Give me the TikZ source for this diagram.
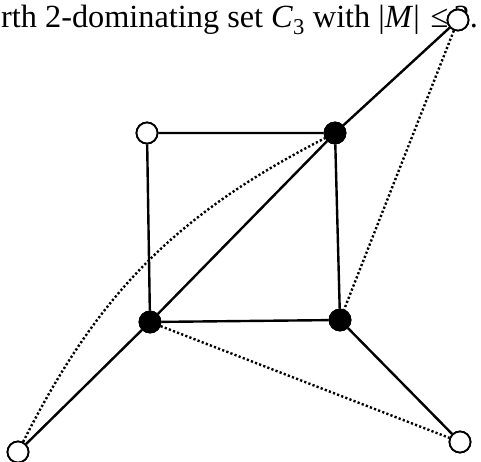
\documentclass[tikz,border=0pt]{standalone}
\usepackage{fontspec}
\setmainfont{Liberation Serif}
\usepackage{tikz}

\begin{document}
\begin{tikzpicture}[x=1pt,y=1pt,
    wnode/.style={circle,draw,fill=white,line width=1.8pt,minimum size=21pt,inner sep=0pt},
    bnode/.style={circle,draw,fill=black,line width=1.8pt,minimum size=21pt,inner sep=0pt},
    edge/.style={line width=2.4pt},
    dotline/.style={line width=2.4pt,dash pattern=on 2.2pt off 2.2pt}]
        \useasboundingbox (0,0) rectangle (481,461);
        % caption fragment
        \node[anchor=base west,inner sep=0pt,font=\fontsize{32.3}{38}\selectfont] (cap) at (1,433)
          {rth 2-dominating set \textit{C}\textsubscript{3} with |\textit{M}|\,\,≤\,3.};
        % vertices
        \node[wnode] (tl) at (147,328) {};
        \node[bnode] (tr) at (335,328) {};
        \node[bnode] (bl) at (150,139) {};
        \node[bnode] (br) at (340,141) {};
        \node[wnode] (top) at (458,441) {};
        \node[wnode] (low) at (18,9) {};
        \node[wnode] (right) at (460,19) {};
        % dotted edges
        \draw[dotline] (low) to[bend left=18] (tr);
        \draw[dotline] (top) -- (br);
        \draw[dotline] (bl) -- (right);
        % solid edges
        \draw[edge] (tl) -- (tr) -- (br) -- (bl) -- (tl);
        \draw[edge] (low) -- (bl) -- (tr) -- (top);
        \draw[edge] (br) -- (right);
        % redraw vertices on top
        \foreach \v in {tl,top,low,right} \node[wnode] at (\v) {};
        \foreach \v in {tr,bl,br} \node[bnode] at (\v) {};
\end{tikzpicture}
\end{document}
